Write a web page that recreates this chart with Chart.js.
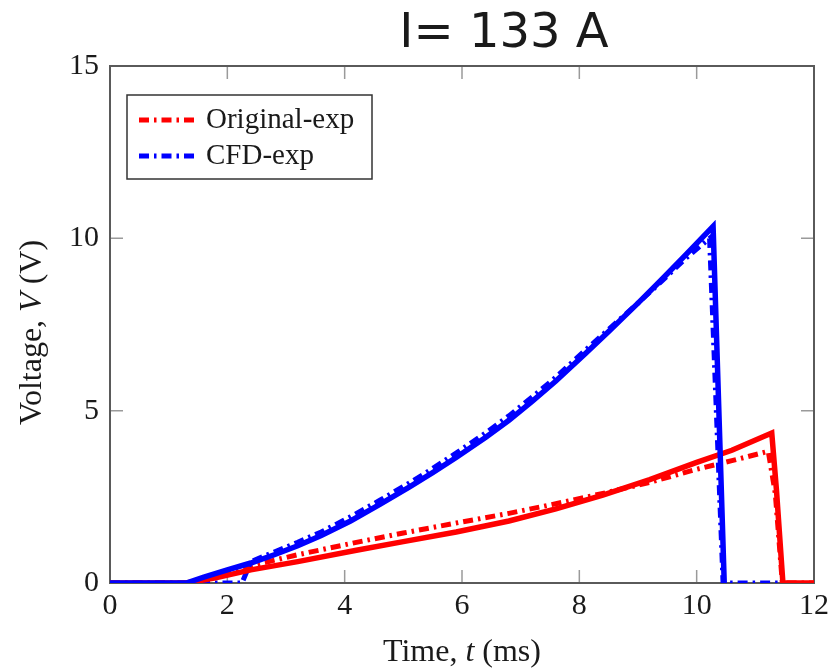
<!DOCTYPE html>
<html>
<head>
<meta charset="utf-8">
<script src="https://cdn.jsdelivr.net/npm/chart.js@4"></script>
<style>
  html, body { margin: 0; padding: 0; background: #fff; }
  #wrap { position: relative; width: 834px; height: 671px; }
</style>
</head>
<body>
<div id="wrap"><canvas id="chart"></canvas></div>
<script>
// time (ms) / voltage (V)
const origSimT = [0, 1.3, 1.8, 2.4, 3.2, 4.2, 5.0, 5.9, 6.8, 7.6, 8.4, 9.2, 10.0, 10.6, 11.28, 11.36, 11.47, 12.0];
const origSimV = [0, 0, 0.15, 0.38, 0.62, 0.95, 1.2, 1.48, 1.8, 2.15, 2.55, 3.0, 3.5, 3.85, 4.35, 2.7, 0, 0];

const origExpT = [0, 1.3, 1.8, 2.4, 3.2, 4.2, 5.0, 5.9, 6.8, 7.6, 8.4, 9.2, 10.0, 10.6, 11.22, 11.34, 11.46, 12.0];
const origExpV = [0, 0, 0.2, 0.5, 0.82, 1.18, 1.45, 1.74, 2.02, 2.3, 2.6, 2.92, 3.3, 3.55, 3.82, 2.6, 0, 0];

const cfdSimT = [0, 1.3, 1.6, 2.0, 2.4, 2.8, 3.2, 3.6, 4.1, 4.6, 5.1, 5.5, 5.9, 6.4, 6.8, 7.2, 7.6, 8.1, 8.5, 9.0, 9.4, 9.8, 10.28, 10.47];
const cfdSimV = [0, 0, 0.17, 0.38, 0.58, 0.82, 1.08, 1.38, 1.8, 2.28, 2.78, 3.2, 3.64, 4.22, 4.72, 5.28, 5.86, 6.65, 7.3, 8.12, 8.8, 9.5, 10.35, 0];

const cfdExpT = [0, 2.25, 2.4, 2.8, 3.2, 3.6, 4.1, 4.6, 5.1, 5.5, 5.9, 6.4, 6.8, 7.2, 7.6, 8.1, 8.5, 9.0, 9.4, 9.8, 10.22, 10.45, 11.4];
const cfdExpV = [0, 0, 0.62, 0.9, 1.18, 1.48, 1.92, 2.4, 2.9, 3.32, 3.77, 4.35, 4.85, 5.4, 5.97, 6.75, 7.36, 8.12, 8.75, 9.4, 10.0, 0, 0];

const xTicks = [0, 2, 4, 6, 8, 10, 12];
const yTicks = [0, 5, 10, 15];
const legendLabels = ["Original-exp", "CFD-exp"];

const SERIF = '"Liberation Serif", "Times New Roman", serif';
const INK = "#1a1a1a";
const dashDot = [10, 5, 2.5, 5];

const toPoints = (ts, vs) => ts.map((t, i) => ({ x: t, y: vs[i] }));

// draws text made of plain / italic pieces, centred on (0,0) of the current transform
function drawRich(ctx, parts, size) {
  const fonts = parts.map((p) => `${p.it ? "italic " : ""}${size}px ${SERIF}`);
  let total = 0;
  const widths = parts.map((p, i) => {
    ctx.font = fonts[i];
    const w = ctx.measureText(p.t).width;
    total += w;
    return w;
  });
  let cx = -total / 2;
  parts.forEach((p, i) => {
    ctx.font = fonts[i];
    ctx.fillText(p.t, cx, 0);
    cx += widths[i];
  });
}

const frameAndTicks = {
  id: "frameAndTicks",
  beforeDatasetsDraw(chart) {
    const { ctx, chartArea: a, scales } = chart;
    const len = 13;
    ctx.save();
    ctx.strokeStyle = "#9a9a9a";
    ctx.lineWidth = 1.5;
    ctx.beginPath();
    xTicks.forEach((v) => {
      const px = scales.x.getPixelForValue(v);
      ctx.moveTo(px, a.bottom);
      ctx.lineTo(px, a.bottom - len);
      ctx.moveTo(px, a.top);
      ctx.lineTo(px, a.top + len);
    });
    yTicks.forEach((v) => {
      const py = scales.y.getPixelForValue(v);
      ctx.moveTo(a.left, py);
      ctx.lineTo(a.left + len, py);
      ctx.moveTo(a.right, py);
      ctx.lineTo(a.right - len, py);
    });
    ctx.stroke();
    ctx.strokeStyle = "#5a5a5a";
    ctx.lineWidth = 2;
    ctx.strokeRect(a.left, a.top, a.right - a.left, a.bottom - a.top);
    ctx.restore();
  },
};

const labelsAndLegend = {
  id: "labelsAndLegend",
  afterDraw(chart) {
    const { ctx, chartArea: a } = chart;
    ctx.save();
    ctx.fillStyle = INK;
    ctx.textBaseline = "alphabetic";
    ctx.textAlign = "left";

    // title
    ctx.font = '48px "DejaVu Sans", sans-serif';
    ctx.textAlign = "center";
    ctx.fillText("I= 133 A", 504, 47);
    ctx.textAlign = "left";

    // x axis title
    ctx.save();
    ctx.translate((a.left + a.right) / 2, 661);
    drawRich(ctx, [{ t: "Time, " }, { t: "t", it: true }, { t: " (ms)" }], 32);
    ctx.restore();

    // y axis title
    ctx.save();
    ctx.translate(41, (a.top + a.bottom) / 2 + 8);
    ctx.rotate(-Math.PI / 2);
    drawRich(ctx, [{ t: "Voltage, " }, { t: "V", it: true }, { t: " (V)" }], 32);
    ctx.restore();

    // legend
    const bx = a.left + 17, by = a.top + 29;
    ctx.strokeStyle = "#333";
    ctx.lineWidth = 1.5;
    ctx.strokeRect(bx, by, 245, 84);
    legendLabels.forEach((name, i) => {
      const ds = chart.data.datasets.find((d) => d.label === name);
      const yy = by + 25 + i * 36;
      ctx.strokeStyle = ds.borderColor;
      ctx.lineWidth = ds.borderWidth;
      ctx.setLineDash(ds.borderDash);
      ctx.beginPath();
      ctx.moveTo(bx + 12, yy);
      ctx.lineTo(bx + 69, yy);
      ctx.stroke();
      ctx.setLineDash([]);
      ctx.font = `29px ${SERIF}`;
      ctx.fillText(ds.label, bx + 79, yy + 8);
    });
    ctx.restore();
  },
};

// first dataset is drawn on top
new Chart(document.getElementById("chart"), {
  type: "line",
  data: {
    datasets: [
      { label: "CFD", data: toPoints(cfdSimT, cfdSimV), borderColor: "#0000ff", borderWidth: 5.5, borderDash: [] },
      { label: "Original", data: toPoints(origSimT, origSimV), borderColor: "#ff0000", borderWidth: 5.5, borderDash: [] },
      { label: "CFD-exp", data: toPoints(cfdExpT, cfdExpV), borderColor: "#0000ff", borderWidth: 5, borderDash: dashDot },
      { label: "Original-exp", data: toPoints(origExpT, origExpV), borderColor: "#ff0000", borderWidth: 5, borderDash: dashDot },
    ],
  },
  options: {
    animation: false,
    responsive: true,
    maintainAspectRatio: false,
    layout: { padding: { top: 66, right: 16, bottom: 0, left: 0 } },
    elements: { point: { radius: 0 }, line: { tension: 0, fill: false } },
    plugins: { legend: { display: false }, tooltip: { enabled: false } },
    scales: {
      x: {
        type: "linear",
        min: 0,
        max: 12,
        afterBuildTicks: (s) => { s.ticks = xTicks.map((v) => ({ value: v })); },
        ticks: { font: { family: SERIF, size: 30 }, color: INK, padding: 5, maxRotation: 0 },
        grid: { display: false, drawTicks: false },
        border: { display: false },
        afterFit: (s) => { s.height = 88; },
      },
      y: {
        type: "linear",
        min: 0,
        max: 15,
        afterBuildTicks: (s) => { s.ticks = yTicks.map((v) => ({ value: v })); },
        ticks: { font: { family: SERIF, size: 30 }, color: INK, padding: 11 },
        grid: { display: false, drawTicks: false },
        border: { display: false },
        afterFit: (s) => { s.width = 110; },
      },
    },
  },
  plugins: [frameAndTicks, labelsAndLegend],
});
</script>
</body>
</html>
